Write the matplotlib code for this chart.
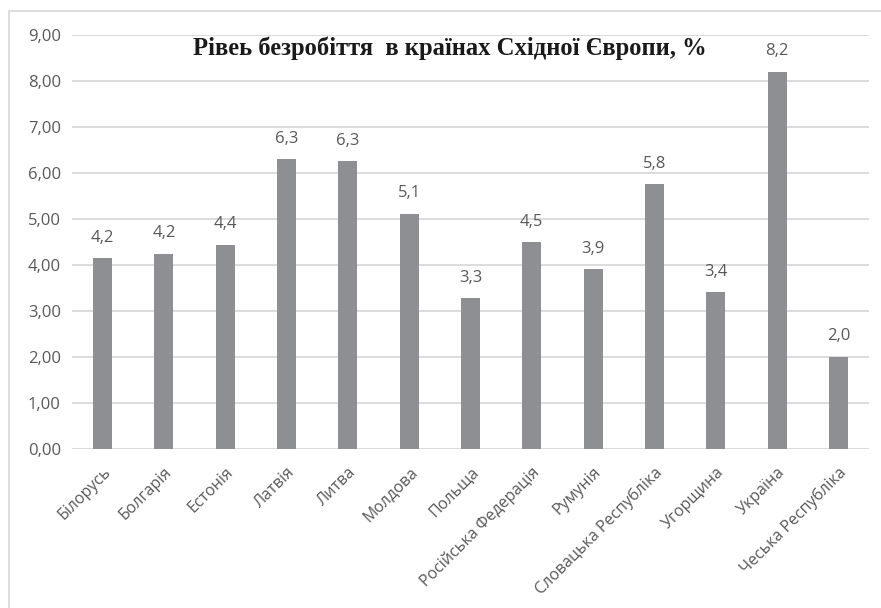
import matplotlib
matplotlib.use('Agg')
import matplotlib.pyplot as plt
from matplotlib.patches import Rectangle

# рівень безробіття, %
countries = ['Білорусь', 'Болгарія', 'Естонія', 'Латвія', 'Литва', 'Молдова',
             'Польща', 'Російська Федерація', 'Румунія', 'Словацька Республіка',
             'Угорщина', 'Україна', 'Чеська Республіка']
values = [4.15, 4.24, 4.44, 6.30, 6.26, 5.11, 3.28, 4.50, 3.91, 5.76, 3.41, 8.20, 2.00]
yticks = [0, 1, 2, 3, 4, 5, 6, 7, 8, 9]

txt = '#595959'
plt.rcParams['font.family'] = ['Open Sans', 'DejaVu Sans']

fig = plt.figure(figsize=(8.81, 6.08), dpi=100)
ax = fig.add_axes([72/881, 1 - 449/608, 797/881, 414/608])

x = list(range(len(countries)))
bars = ax.bar(x, values, width=0.31, color='#8e8f93', zorder=3)
for b, v in zip(bars, values):
    ax.annotate(('%.1f' % v).replace('.', ','), (b.get_x() + b.get_width()/2, v),
                xytext=(0, 9), textcoords='offset points', ha='center', va='bottom',
                fontsize=12, color=txt)

ax.set_xlim(-0.5, len(countries) - 0.5)
ax.set_ylim(0, 9)
ax.set_yticks(yticks)
ax.set_yticklabels([('%.2f' % t).replace('.', ',') for t in yticks], fontsize=12, color=txt)
ax.set_xticks(x)
ax.set_xticklabels(countries, rotation=45, ha='right', rotation_mode='anchor',
                   fontsize=11.5, color=txt)
ax.tick_params(length=0, pad=8)
ax.tick_params(axis='x', pad=11)
ax.yaxis.grid(True, color='#d9d9d9', linewidth=1.3, zorder=0)
for s in ax.spines.values():
    s.set_visible(False)

fig.text(450/881, 1 - 48/608, 'Рівеь безробіття  в країнах Східної Європи, %',
         ha='center', va='center', fontsize=17.7, fontweight='bold',
         family='Liberation Serif', color='#1a1a1a')

# рамка діаграми
fig.patches.append(Rectangle((9/881, -0.1), 1.2, 1 - 11/608 + 0.1,
                             transform=fig.transFigure, fill=False,
                             edgecolor='#d9d9d9', linewidth=1.3))

fig.savefig('out.png', dpi=100)
